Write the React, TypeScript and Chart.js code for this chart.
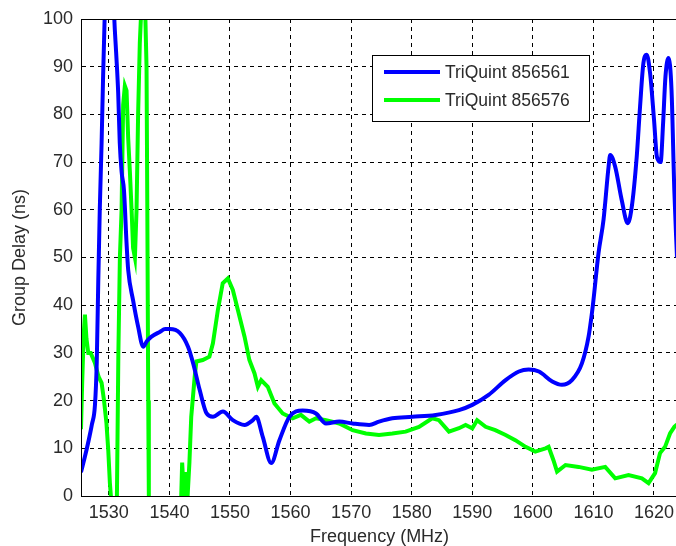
import React, { useEffect, useRef } from "react";
import { Chart, registerables } from "chart.js";

Chart.register(...registerables);

const xTicks = [1530, 1540, 1550, 1560, 1570, 1580, 1590, 1600, 1610, 1620];
const yTicks = [0, 10, 20, 30, 40, 50, 60, 70, 80, 90, 100];

const seriesLabels = ["TriQuint 856561", "TriQuint 856576"];

const blueFreq = [
  1525.4, 1526.0, 1526.55, 1527.2, 1527.7, 1528.0, 1528.25, 1528.5, 1528.8, 1529.05, 1529.3, 1529.45,
  1530.7, 1530.9, 1531.2, 1531.54, 1531.8, 1532.1, 1532.5, 1532.92, 1533.19, 1534.0, 1534.83, 1535.66,
  1536.3, 1537.04, 1538.4, 1539.3, 1540.05, 1541.7, 1543.07, 1543.9, 1545.0, 1546.1, 1547.18, 1548.83,
  1550.47, 1552.4, 1553.77, 1554.33, 1555.41, 1556.8, 1558.16, 1559.81, 1562.0, 1564.2, 1565.85, 1568.04,
  1570.23, 1572.98, 1574.6, 1576.8, 1580.1, 1583.96, 1587.8, 1590.0, 1592.7, 1595.5, 1597.7, 1599.3,
  1601.0, 1603.2, 1604.8, 1606.45, 1608.1, 1609.2, 1609.75, 1610.0, 1610.85, 1611.67, 1612.5, 1612.77,
  1613.6, 1614.68, 1615.67, 1616.33, 1617.15, 1617.7, 1618.25, 1618.8, 1619.36, 1620.0, 1620.5, 1621.1,
  1621.5, 1621.9, 1622.4, 1622.9, 1623.36, 1623.8,
];
const blueDelay = [
  5, 8, 11, 15, 19, 28, 45, 60, 74, 88, 100, 108,
  108, 100, 93, 84.5, 74, 68, 64, 53, 47.4, 41, 35.5, 31.3,
  32.5, 33.4, 34.4, 35, 35, 34.2, 31.3, 27.9, 22.2, 17.4, 16.6, 17.7,
  15.9, 14.9, 15.9, 16.6, 12.4, 6.9, 11.7, 16.6, 17.9, 17.3, 15.2, 15.6,
  15.2, 14.9, 15.6, 16.3, 16.6, 17, 18, 19.1, 21.2, 24.3, 26.1, 26.5,
  26.1, 24, 23.3, 24.3, 27.8, 33.4, 38.3, 41, 51, 57.9, 69, 71.5,
  69, 62, 57.2, 60.6, 71.1, 81.6, 90.7, 92.5, 88.6, 79, 71, 70,
  78, 88, 91.8, 85, 64, 50,
];

const greenFreq = [
  1525.4, 1525.6, 1525.85, 1526.05, 1526.3, 1526.6, 1527.0, 1527.7, 1528.3, 1528.8, 1529.2, 1529.6,
  1529.9, 1530.17, 1530.45, 1530.6, 1531.1, 1531.33, 1531.57, 1531.82, 1532.1, 1532.36, 1532.64, 1532.92,
  1533.19, 1533.47, 1533.75, 1534.0, 1534.3, 1534.57, 1534.83, 1535.11, 1535.39, 1535.94, 1536.22, 1536.35,
  1536.5, 1536.6, 1536.75, 1541.7, 1541.95, 1542.1, 1542.4, 1542.7, 1543.0, 1543.3, 1543.6, 1544.17,
  1544.45, 1545.5, 1546.6, 1547.18, 1548.0, 1548.8, 1549.65, 1550.47, 1551.3, 1552.4, 1553.2, 1554.05,
  1554.6, 1555.15, 1556.24, 1557.34, 1558.7, 1560.35, 1561.7, 1563.1, 1564.2, 1565.85, 1568.04, 1570.23,
  1572.44, 1574.6, 1576.8, 1579.0, 1581.2, 1583.4, 1584.5, 1586.15, 1587.8, 1588.9, 1590.0, 1590.8,
  1592.2, 1593.8, 1595.5, 1597.1, 1598.8, 1600.4, 1602.1, 1602.6, 1603.4, 1604.0, 1605.4, 1607.55,
  1609.75, 1611.95, 1613.6, 1615.8, 1618.0, 1619.1, 1620.18, 1621.0, 1621.83, 1622.65, 1623.36, 1623.8,
];
const greenDelay = [
  14, 24, 34, 38, 33, 30, 30, 27.9, 25, 23.7, 20, 15.3,
  9.6, 2.7, -2, -10, -10, 0, 30, 50, 60, 82, 86, 85,
  75, 68, 60, 52, 50, 60, 80, 95, 103, 105, 90, 60,
  20, 0, -10, -10, 0, 7, 0, 5, 0, 7, 16.6, 25,
  28.2, 28.5, 29.2, 32, 39, 44.6, 45.6, 43.2, 39, 33.4, 28.5, 25.7,
  22.9, 24.3, 22.9, 19.4, 17.3, 16.3, 17, 15.6, 16.3, 15.9, 15.2, 13.8,
  13.1, 12.8, 13.1, 13.5, 14.5, 16.3, 15.9, 13.5, 14.2, 14.9, 14.2, 15.9,
  14.5, 13.8, 12.8, 11.7, 10.3, 9.3, 10, 10.3, 7.5, 5.1, 6.5, 6.1,
  5.5, 6.1, 3.7, 4.4, 3.7, 2.7, 4.8, 9, 10.3, 13.1, 14.5, 15,
];

const FONT = '"Liberation Sans", Arial, sans-serif';
const TEXT = "#2a2a2a";

const boxPlugin = {
  id: "matlabBox",
  afterDraw(chart: any) {
    const { ctx, chartArea } = chart;
    ctx.save();
    ctx.strokeStyle = "#000";
    ctx.lineWidth = 1;
    ctx.strokeRect(chartArea.left + 0.5, chartArea.top + 0.5, chartArea.right - chartArea.left, chartArea.bottom - chartArea.top);
    // legend
    const lx = 372.5, ly = 55.5, lw = 217, lh = 66;
    ctx.fillStyle = "#fff";
    ctx.fillRect(lx, ly, lw, lh);
    ctx.strokeStyle = "#000";
    ctx.strokeRect(lx, ly, lw, lh);
    const ys = [72, 100];
    chart.data.datasets.forEach((ds: any, i: number) => {
      ctx.strokeStyle = ds.borderColor;
      ctx.lineWidth = 4;
      ctx.beginPath();
      ctx.moveTo(384, ys[i]);
      ctx.lineTo(440, ys[i]);
      ctx.stroke();
      ctx.fillStyle = TEXT;
      ctx.font = `17.5px ${FONT}`;
      ctx.textBaseline = "middle";
      ctx.textAlign = "left";
      ctx.fillText(ds.label, 445, ys[i] + 1);
    });
    ctx.restore();
  },
};

export default function App() {
  const ref = useRef<HTMLCanvasElement>(null);
  useEffect(() => {
    if (!ref.current) return;
    const chart = new Chart(ref.current, {
      type: "line",
      data: {
        datasets: [
          {
            label: seriesLabels[0],
            data: blueFreq.map((f, i) => ({ x: f, y: blueDelay[i] })),
            borderColor: "#0000ff",
            borderWidth: 4,
            pointRadius: 0,
            cubicInterpolationMode: "monotone",
            clip: 0,
            fill: false,
          },
          {
            label: seriesLabels[1],
            data: greenFreq.map((f, i) => ({ x: f, y: greenDelay[i] })),
            borderColor: "#00ff00",
            borderWidth: 4,
            pointRadius: 0,
            tension: 0,
            clip: 0,
            fill: false,
          },
        ],
      },
      options: {
        animation: false,
        responsive: false,
        maintainAspectRatio: false,
        layout: { padding: { top: 19, right: 0, bottom: 0, left: 0 } },
        plugins: { legend: { display: false }, tooltip: { enabled: false } },
        scales: {
          x: {
            type: "linear",
            min: 1525.4,
            max: 1624.0,
            afterBuildTicks: (s: any) => {
              s.ticks = xTicks.map((v) => ({ value: v }));
            },
            afterFit: (s: any) => {
              s.height = 50;
            },
            grid: { color: "#000", lineWidth: 1, drawTicks: false },
            border: { display: true, color: "#000", width: 1, dash: [4, 4] },
            ticks: {
              color: TEXT,
              font: { family: FONT, size: 18 },
              padding: 6,
              maxRotation: 0,
              autoSkip: false,
              callback: (v: any) => String(v),
            },
            title: {
              display: true,
              text: "Frequency (MHz)",
              color: TEXT,
              font: { family: FONT, size: 18, lineHeight: 1 },
              padding: { top: 0, bottom: 0 },
            },
          },
          y: {
            type: "linear",
            min: 0,
            max: 100,
            afterBuildTicks: (s: any) => {
              s.ticks = yTicks.map((v) => ({ value: v }));
            },
            afterFit: (s: any) => {
              s.width = 81;
            },
            grid: { color: "#000", lineWidth: 1, drawTicks: false },
            border: { display: true, color: "#000", width: 1, dash: [4, 4] },
            ticks: {
              color: TEXT,
              font: { family: FONT, size: 18 },
              padding: 8,
              autoSkip: false,
              callback: (v: any) => String(v),
            },
            title: {
              display: true,
              text: "Group Delay (ns)",
              color: TEXT,
              font: { family: FONT, size: 18, lineHeight: 1 },
              padding: { top: 11, bottom: 0 },
            },
          },
        },
      },
      plugins: [boxPlugin],
    } as any);
    return () => chart.destroy();
  }, []);
  return (
    <div style={{ position: "fixed", left: 0, top: 0, width: 676, height: 546, overflow: "hidden", background: "#fff" }}>
      <canvas ref={ref} width={680} height={546} style={{ display: "block", width: 680, height: 546 }} />
    </div>
  );
}
